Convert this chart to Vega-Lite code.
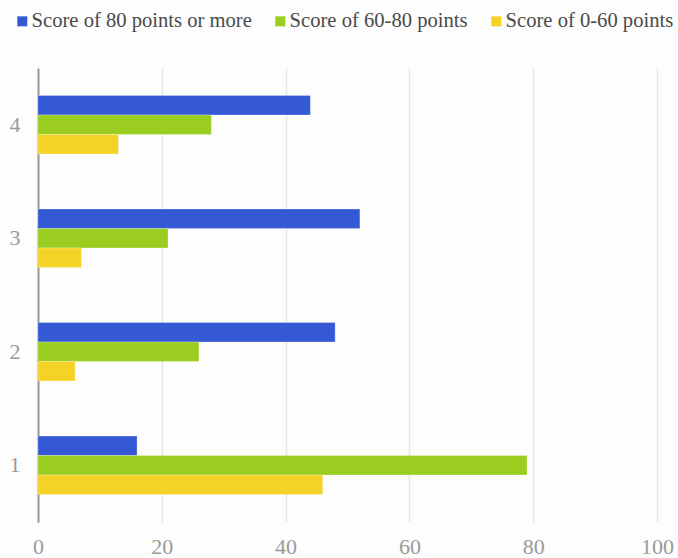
{
  "$schema": "https://vega.github.io/schema/vega-lite/v6.json",
  "autosize": "none",
  "width": 619,
  "height": 454,
  "padding": {"left": 38, "top": 68, "right": 21, "bottom": 36},
  "background": "#fcfdfc",
  "data": {
    "values": [
      {"group": "4", "series": "Score of 80 points or more", "value": 44},
      {"group": "4", "series": "Score of 60-80 points", "value": 28},
      {"group": "4", "series": "Score of 0-60 points", "value": 13},
      {"group": "3", "series": "Score of 80 points or more", "value": 52},
      {"group": "3", "series": "Score of 60-80 points", "value": 21},
      {"group": "3", "series": "Score of 0-60 points", "value": 7},
      {"group": "2", "series": "Score of 80 points or more", "value": 48},
      {"group": "2", "series": "Score of 60-80 points", "value": 26},
      {"group": "2", "series": "Score of 0-60 points", "value": 6},
      {"group": "1", "series": "Score of 80 points or more", "value": 16},
      {"group": "1", "series": "Score of 60-80 points", "value": 79},
      {"group": "1", "series": "Score of 0-60 points", "value": 46}
    ]
  },
  "mark": {"type": "bar", "stroke": "#ffffff", "strokeOpacity": 0.5, "strokeWidth": 0.5},
  "encoding": {
    "y": {
      "field": "group",
      "type": "ordinal",
      "sort": "descending",
      "scale": {"paddingInner": 0.485, "paddingOuter": 0.2425},
      "axis": {
        "title": null,
        "labelAngle": 0,
        "labelFont": "Liberation Serif",
        "labelFontSize": 22,
        "labelColor": "#9a9a9a",
        "labelPadding": 18,
        "ticks": false,
        "domainColor": "#999999",
        "domainWidth": 2,
        "grid": false
      }
    },
    "yOffset": {
      "field": "series",
      "type": "nominal",
      "sort": ["Score of 80 points or more", "Score of 60-80 points", "Score of 0-60 points"],
      "scale": {"paddingInner": 0, "paddingOuter": 0}
    },
    "x": {
      "field": "value",
      "type": "quantitative",
      "scale": {"domain": [0, 100], "nice": false},
      "axis": {
        "title": null,
        "values": [0, 20, 40, 60, 80, 100],
        "labelFont": "Liberation Serif",
        "labelFontSize": 22,
        "labelColor": "#9a9a9a",
        "labelPadding": 14,
        "labelFlush": false,
        "ticks": false,
        "domain": false,
        "grid": true,
        "gridColor": "#e6e6e6",
        "gridWidth": 1.5
      }
    },
    "color": {
      "field": "series",
      "type": "nominal",
      "sort": ["Score of 80 points or more", "Score of 60-80 points", "Score of 0-60 points"],
      "scale": {
        "domain": ["Score of 80 points or more", "Score of 60-80 points", "Score of 0-60 points"],
        "range": ["#3559d4", "#9acd1f", "#f5d326"]
      },
      "legend": {
        "title": null,
        "orient": "none",
        "direction": "horizontal",
        "legendX": -26,
        "legendY": -57,
        "symbolType": "square",
        "symbolSize": 100,
        "symbolStrokeWidth": 0,
        "labelFont": "Liberation Serif",
        "labelFontSize": 20.6,
        "labelLimit": 0,
        "labelColor": "#4a4a4a",
        "labelOffset": -1,
        "columnPadding": 18
      }
    }
  },
  "config": {"view": {"stroke": null}}
}
